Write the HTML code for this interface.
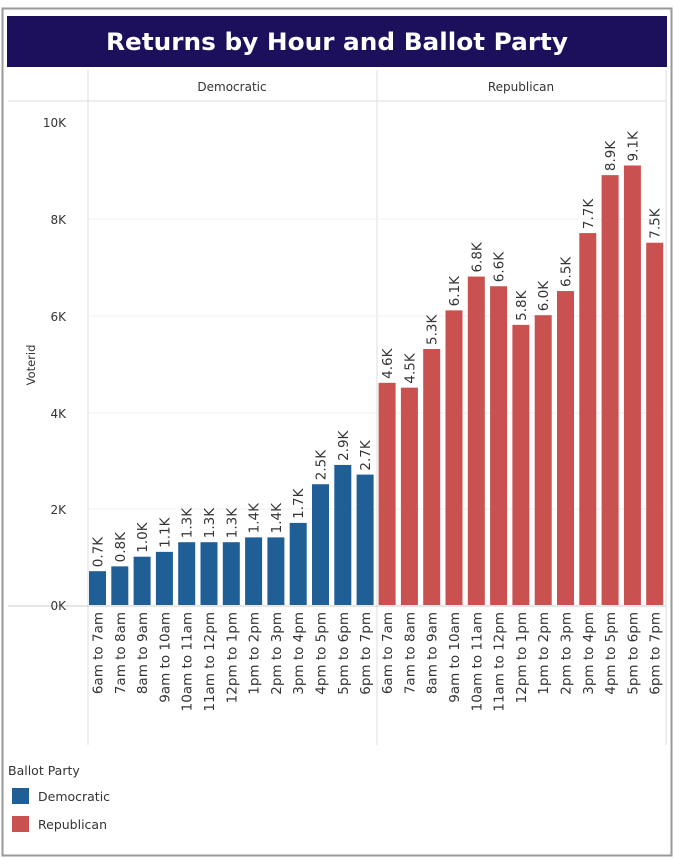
<!DOCTYPE html>
<html><head><meta charset="utf-8"><style>
body{margin:0;background:#fff;}
svg{display:block;font-family:"DejaVu Sans","Liberation Sans",sans-serif;}
</style></head><body>
<svg width="674" height="858" viewBox="0 0 674 858" xmlns="http://www.w3.org/2000/svg">
<rect x="2.5" y="8.5" width="669" height="847" fill="#fff" stroke="#9a9a9a" stroke-width="2"/>
<rect x="7" y="16" width="660" height="51" fill="#1c0f5c"/>
<text x="337" y="50" text-anchor="middle" font-size="24" font-weight="bold" fill="#fff" textLength="462" lengthAdjust="spacingAndGlyphs">Returns by Hour and Ballot Party</text>
<g stroke="#ddd" stroke-width="1">
<line x1="88" y1="70" x2="88" y2="745"/>
<line x1="377" y1="70" x2="377" y2="745"/>
<line x1="666" y1="70" x2="666" y2="745"/>
<line x1="8" y1="101" x2="666" y2="101"/>
<line x1="88" y1="219" x2="666" y2="219" stroke="#f0f0f0"/>
<line x1="88" y1="316" x2="666" y2="316" stroke="#f0f0f0"/>
<line x1="88" y1="413" x2="666" y2="413" stroke="#f0f0f0"/>
<line x1="88" y1="509" x2="666" y2="509" stroke="#f0f0f0"/>
<line x1="8" y1="606" x2="666" y2="606" stroke="#ccc"/>
</g>
<g font-size="12" fill="#333" text-anchor="middle">
<text x="232" y="91">Democratic</text>
<text x="521" y="91">Republican</text>
</g>
<g font-size="12" fill="#333" text-anchor="end">
<text x="66" y="127">10K</text>
<text x="66" y="224">8K</text>
<text x="66" y="321">6K</text>
<text x="66" y="418">4K</text>
<text x="66" y="514">2K</text>
<text x="66" y="610">0K</text>
</g>
<text transform="translate(35,365) rotate(-90)" text-anchor="middle" font-size="11.5" fill="#333">Voterid</text>
<g id="bars"></g>
<text x="8" y="775" font-size="12.5" fill="#333">Ballot Party</text>
<rect x="12" y="788" width="17" height="16" fill="#1f5f96"/>
<text x="38" y="801" font-size="12.5" fill="#333">Democratic</text>
<rect x="12" y="816" width="17" height="16" fill="#c9514f"/>
<text x="38" y="829" font-size="12.5" fill="#333">Republican</text>
<script>
(function(){
var ns="http://www.w3.org/2000/svg",g=document.getElementById("bars");
var labs=["6am to 7am","7am to 8am","8am to 9am","9am to 10am","10am to 11am","11am to 12pm","12pm to 1pm","1pm to 2pm","2pm to 3pm","3pm to 4pm","4pm to 5pm","5pm to 6pm","6pm to 7pm"];
var d=[0.7,0.8,1.0,1.1,1.3,1.3,1.3,1.4,1.4,1.7,2.5,2.9,2.7];
var r=[4.6,4.5,5.3,6.1,6.8,6.6,5.8,6.0,6.5,7.7,8.9,9.1,7.5];
function draw(vals,x0,col){
for(var i=0;i<13;i++){
var x=x0+i*22.3,h=vals[i]*48.3,y=605-h;
var re=document.createElementNS(ns,"rect");
re.setAttribute("x",x);re.setAttribute("y",y);re.setAttribute("width",17);re.setAttribute("height",h);re.setAttribute("fill",col);g.appendChild(re);
var t=document.createElementNS(ns,"text");
t.setAttribute("transform","translate("+(x+13.5)+","+(y-4)+") rotate(-90)");
t.setAttribute("font-size","13.5");t.setAttribute("fill","#333");
t.textContent=vals[i].toFixed(1)+"K";g.appendChild(t);
var l=document.createElementNS(ns,"text");
l.setAttribute("transform","translate("+(x+13.5)+",612) rotate(-90)");
l.setAttribute("font-size","13.5");l.setAttribute("fill","#333");l.setAttribute("text-anchor","end");
l.textContent=labs[i];g.appendChild(l);
}}
draw(d,89,"#1f5f96");draw(r,378.6,"#c9514f");
})();
</script>
</svg>
</body></html>
